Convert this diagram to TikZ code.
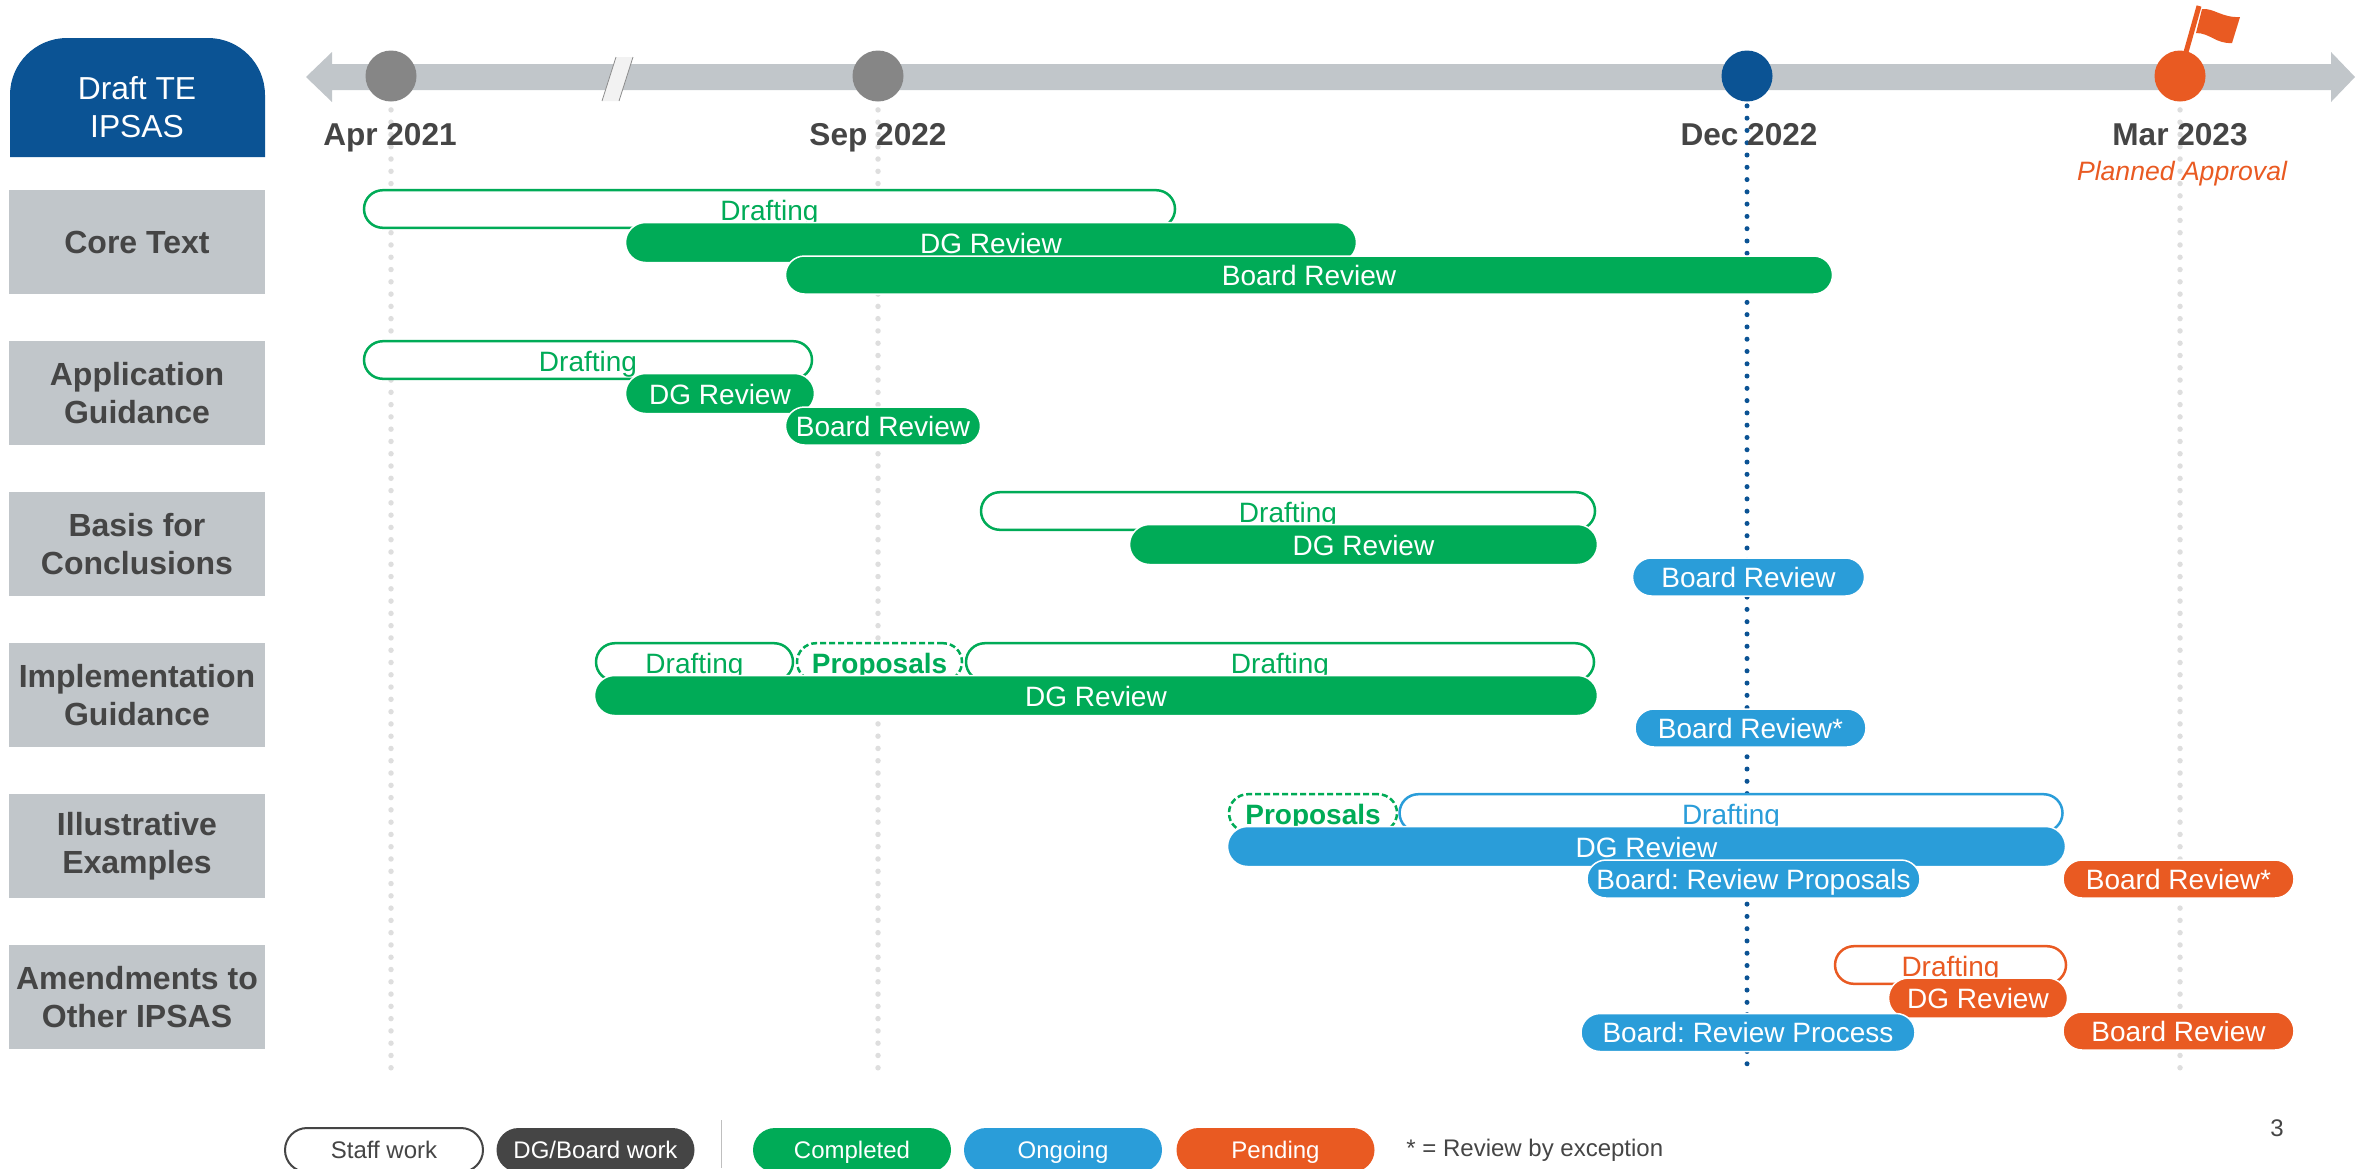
\documentclass[tikz,border=0pt]{standalone}
\usepackage{fontspec}
\setmainfont{Liberation Sans}
\frenchspacing
\definecolor{headblue}{HTML}{0B5394}
\definecolor{axisgray}{HTML}{C1C6CA}
\definecolor{dotgray}{HTML}{DEDEDE}
\definecolor{markgray}{HTML}{868686}
\definecolor{darktext}{HTML}{454545}
\definecolor{donegreen}{HTML}{00AB57}
\definecolor{nowblue}{HTML}{2A9DD9}
\definecolor{duered}{HTML}{E95A22}
\tikzset{
    barw/.style={minimum width=#1*0.5pt},
    pill/.style={rectangle,rounded corners=10pt,inner sep=0pt,minimum height=20pt,
        text height=10.5pt,text depth=0pt,font=\fontsize{14}{16}\selectfont},
    solidbar/.style={pill,fill=#1,draw=white,line width=0.75pt,text=white},
    lowbar/.style={minimum height=19pt,rounded corners=9.5pt,text height=10pt},
    hollowbar/.style={pill,fill=white,draw=#1,line width=1.25pt,text=#1,minimum height=18.8pt,
        rounded corners=9.4pt,text height=11pt},
    propbar/.style={hollowbar=donegreen,dash pattern=on 3pt off 1.5pt,
        font=\fontsize{14}{16}\selectfont\bfseries},
    sidebox/.style={rectangle,fill=axisgray,text=darktext,minimum width=128pt,minimum height=52pt,
        inner sep=0pt,align=center,font=\fontsize{16}{19}\selectfont\bfseries},
    milestone/.style={circle,fill=#1,minimum size=25.5pt,inner sep=0pt},
    datelabel/.style={text=darktext,inner sep=0pt,text height=11.5pt,text depth=0pt,
        font=\fontsize{15.8}{19}\selectfont\bfseries},
    graydots/.style={dotgray,line width=2.75pt,line cap=round,dash pattern=on 0pt off 6.14pt},
    bluedots/.style={headblue,line width=2.5pt,line cap=round,dash pattern=on 0pt off 6.14pt},
    keypill/.style={rectangle,rounded corners=11pt,inner sep=0pt,minimum height=22pt,minimum width=99pt,
        text height=8.6pt,text depth=0pt,font=\fontsize{12}{14}\selectfont},
    keysolid/.style={keypill,fill=#1,text=white},
}
\begin{document}
\begin{tikzpicture}[x=0.5pt,y=-0.5pt]
    \useasboundingbox (0,0) rectangle (2369,1168);

    % timeline
    \fill[axisgray] (306,77) -- (332,52) -- (332,64) -- (2331,64) -- (2331,52) -- (2355,77)
        -- (2331,102) -- (2331,90) -- (332,90) -- (332,102) -- cycle;
    \fill[black!5] (616,57) -- (633,57) -- (619,101) -- (602,101) -- cycle;
    \draw[black!45,line width=0.4pt] (616,57) -- (602,101) (633,57) -- (619,101);
    \node[milestone=markgray] (apr) at (391,76) {};
    \node[milestone=markgray] (sep) at (878,76) {};
    \node[milestone=headblue] (dec) at (1747,76) {};
    \node[milestone=duered] (mar) at (2180,76) {};
    \coordinate (aprend) at (391,1070);
    \coordinate (sepend) at (878,1070);
    \coordinate (decend) at (1747,1066);
    \coordinate (marend) at (2180,1070);
    \draw[graydots] ([yshift=-4pt]apr.south) -- (aprend);
    \draw[graydots] ([yshift=-4pt]sep.south) -- (sepend);
    \draw[bluedots] ([yshift=-2pt]dec.south) -- (decend);
    \draw[graydots] ([yshift=-4pt]mar.south) -- (marend);

    % flag
    \coordinate (poletop) at (2199,6);
    \draw[duered,line width=2.5pt] (mar.north) ++(6,2) -- (poletop);
    \fill[duered] (2202,9) .. controls (2214,8) and (2222,18) .. (2240,17) -- (2232,43)
        .. controls (2216,44) and (2210,33) .. (2196,33) -- cycle;

    \node[datelabel] (aprtext) at (390,134) {Apr 2021};
    \node[datelabel] (septext) at (878,134) {Sep 2022};
    \node[datelabel] (dectext) at (1749,134) {Dec 2022};
    \node[datelabel] (martext) at (2180,134) {Mar 2023};
    \node[text=duered,inner sep=0pt,font=\fontsize{13.3}{15}\selectfont\itshape] (planned) at (2182,173.5) {Planned Approval};

    % left column
    \fill[headblue] (10,157) [rounded corners=28.5pt] -- (10,38) -- (265,38) [sharp corners] -- (265,157) -- cycle;
    \node[text=white,align=center,inner sep=0pt,font=\fontsize{15.9}{19}\selectfont] (head) at (137,107) {Draft TE\\IPSAS};
    \node[sidebox] (core) at (137,242) {Core Text};
    \node[sidebox] (appl) at (137,393) {Application\\Guidance};
    \node[sidebox] (basis) at (137,544) {Basis for\\Conclusions};
    \node[sidebox] (impl) at (137,695) {Implementation\\Guidance};
    \node[sidebox] (illus) at (137,846) {Illustrative\\Examples};
    \node[sidebox] (amend) at (137,997) {Amendments to\\Other IPSAS};

    % core text
    \node[hollowbar=donegreen,barw=811] (coredraft) at (769.5,209) {Drafting};
    \node[solidbar=donegreen,barw=731] (coredg) at (991,242.5) {DG Review};
    \node[solidbar=donegreen,barw=1047,lowbar] (coreboard) at (1309,275) {Board Review};

    % application guidance
    \node[hollowbar=donegreen,barw=448] (appldraft) at (588,360) {Drafting};
    \node[solidbar=donegreen,barw=189] (appldg) at (720,393.5) {DG Review};
    \node[solidbar=donegreen,barw=195,lowbar] (applboard) at (883,426) {Board Review};

    % basis for conclusions
    \node[hollowbar=donegreen,barw=614] (basisdraft) at (1288,511) {Drafting};
    \node[solidbar=donegreen,barw=468] (basisdg) at (1363.5,544.5) {DG Review};
    \node[solidbar=nowblue,barw=232,lowbar] (basisboard) at (1748.5,577) {Board Review};

    % implementation guidance
    \node[hollowbar=donegreen,barw=197] (impldraft) at (694.5,662) {Drafting};
    \node[propbar,barw=165] (implprop) at (879.5,662) {Proposals};
    \node[hollowbar=donegreen,barw=628] (impldrafttwo) at (1280,662) {Drafting};
    \node[solidbar=donegreen,barw=1003] (impldg) at (1096,695.5) {DG Review};
    \node[solidbar=nowblue,barw=231,lowbar] (implboard) at (1750.5,728) {Board Review*};

    % illustrative examples
    \node[propbar,barw=168] (illusprop) at (1313,813) {Proposals};
    \node[hollowbar=nowblue,barw=663] (illusdraft) at (1731,813) {Drafting};
    \node[solidbar=nowblue,barw=838] (illusdg) at (1646.5,846.5) {DG Review};
    \node[solidbar=nowblue,barw=333,lowbar] (illusboard) at (1753.5,879) {Board: Review Proposals};
    \node[solidbar=duered,barw=231,lowbar] (illuslast) at (2178.5,879) {Board Review*};

    % amendments
    \node[hollowbar=duered,barw=231] (amenddraft) at (1950.5,965) {Drafting};
    \node[solidbar=duered,barw=179] (amenddg) at (1978,998) {DG Review};
    \node[solidbar=nowblue,barw=334,lowbar] (amendboard) at (1748,1032.5) {Board: Review Process};
    \node[solidbar=duered,barw=231,lowbar] (amendlast) at (2178.5,1031) {Board Review};

    % legend
    \node[keypill,draw=darktext,line width=1pt,fill=white,text=darktext] (keystaff) at (384,1150) {Staff work};
    \node[keysolid=darktext] (keyboard) at (595.5,1150) {DG/Board work};
    \draw[black!25,line width=0.4pt] (721,1120) -- (721,1168);
    \node[keysolid=donegreen] (keydone) at (852,1150) {Completed};
    \node[keysolid=nowblue] (keynow) at (1063,1150) {Ongoing};
    \node[keysolid=duered] (keydue) at (1275.5,1150) {Pending};
    \node[text=darktext,anchor=west,inner sep=0pt,font=\fontsize{12}{14}\selectfont] (keynote) at (1406,1150) {* = Review by exception};
    \node[text=darktext,inner sep=0pt,font=\fontsize{12}{14}\selectfont] (pagenum) at (2277,1128) {3};
\end{tikzpicture}
\end{document}
